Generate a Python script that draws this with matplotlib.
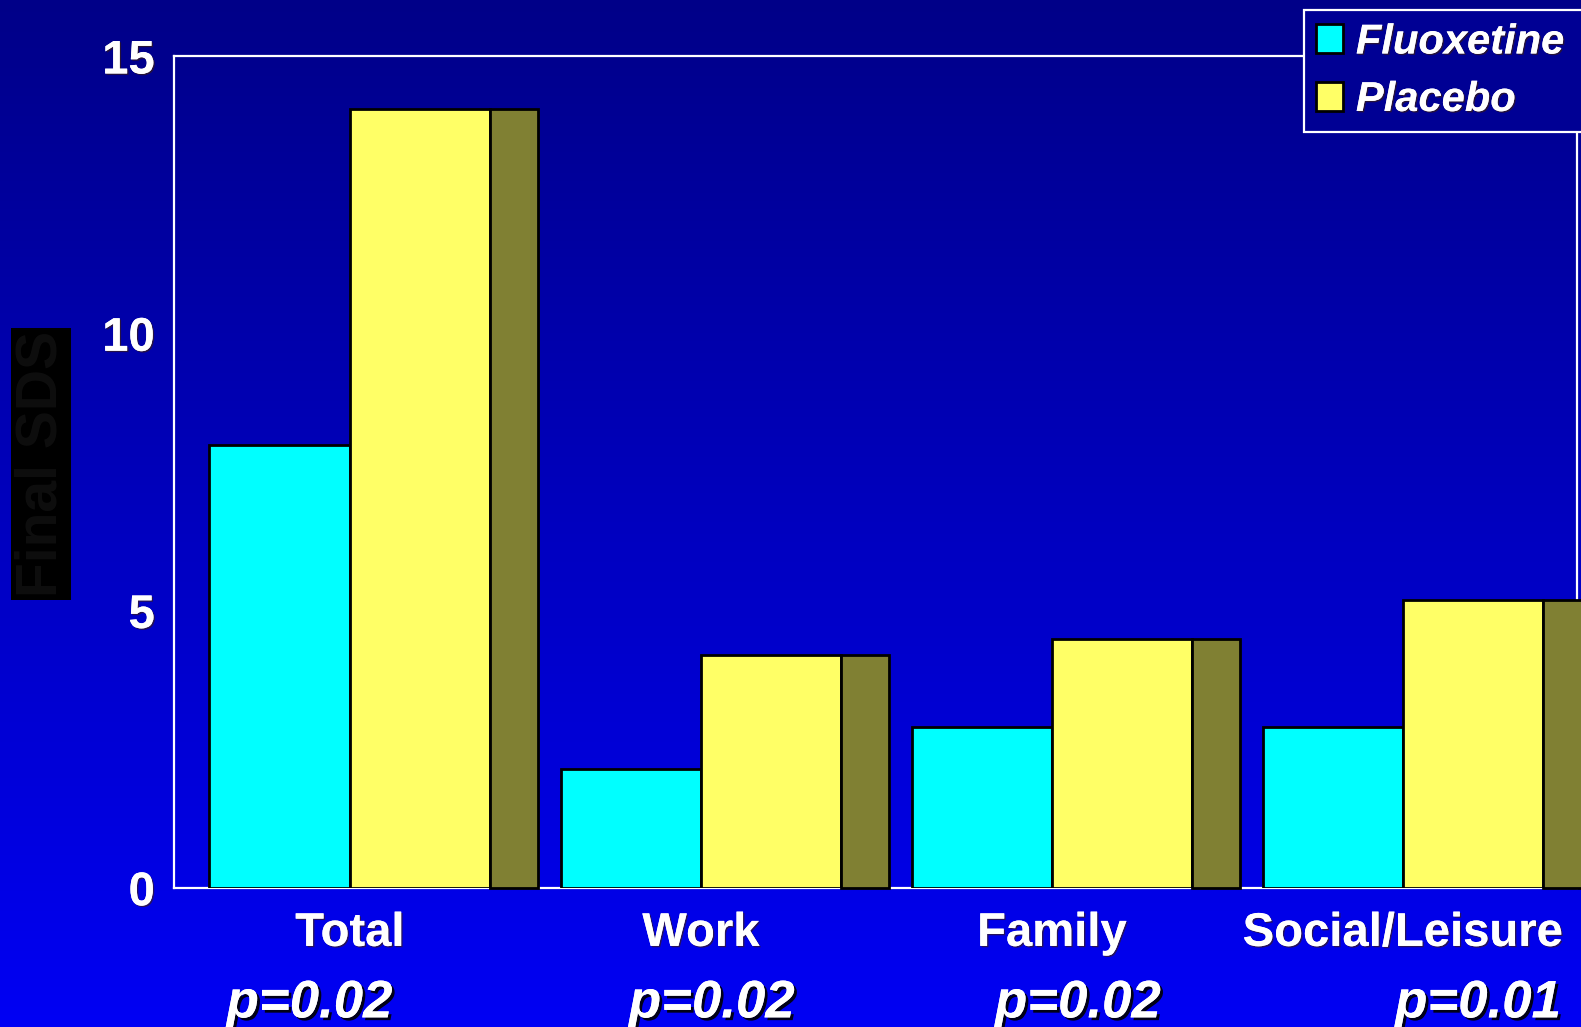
import numpy as np
import matplotlib
matplotlib.use("Agg")
import matplotlib.pyplot as plt
from matplotlib.colors import LinearSegmentedColormap
from matplotlib.patches import Patch
import matplotlib.patheffects as pe
import matplotlib.transforms as mtransforms

categories = ["Total", "Work", "Family", "Social/Leisure"]
fluoxetine = [8.0, 2.15, 2.9, 2.9]
placebo = [14.05, 4.2, 4.5, 5.2]
p_values = ["p=0.02", "p=0.02", "p=0.02", "p=0.01"]
y_ticks = [0, 5, 10, 15]

# hand placed p-value labels (offset from group start)
p_offsets = [0.285, 0.431, 0.474, 0.614]

font = ["Liberation Sans", "DejaVu Sans"]
shadow = [pe.withSimplePatchShadow(offset=(2, -2), shadow_rgbFace="black", alpha=0.9), pe.Normal()]
soft = [pe.withSimplePatchShadow(offset=(1, -1), shadow_rgbFace="#402000", alpha=0.6), pe.Normal()]

fig = plt.figure(figsize=(15.81, 10.27), dpi=100)

# background gradient
bg = fig.add_axes([0, 0, 1, 1], zorder=-10)
cmap = LinearSegmentedColormap.from_list("bg", ["#0000F4", "#000088"])
grad = np.linspace(0, 1, 256).reshape(-1, 1)
bg.imshow(grad, aspect="auto", cmap=cmap, extent=[0, 1, 0, 1], origin="lower")
bg.axis("off")

ax = fig.add_axes([0.1103, 0.1351, 0.8872, 0.8099])
ax.patch.set_alpha(0)

x = np.arange(len(categories))
ax.bar(x, fluoxetine, 0.4, align="edge", color="#00FFFF", edgecolor="black", linewidth=2, zorder=3)
ax.bar(x + 0.4, placebo, 0.4, align="edge", color="#FFFF66", edgecolor="black", linewidth=2, zorder=3)
ax.bar(x + 0.8, placebo, 0.135, align="edge", color="#808033", edgecolor="black", linewidth=2,
       zorder=3, clip_on=False)

ax.set_xlim(-0.1, 3.896)
ax.set_ylim(0, 15)
for s in ax.spines.values():
    s.set_color("white")
    s.set_linewidth(1.6)

ax.set_yticks(y_ticks)
ax.set_yticklabels([str(v) for v in y_ticks], fontsize=34, fontweight="bold", color="white",
                   family=font, path_effects=soft)
ax.set_xticks(x + 0.4)
ax.set_xticklabels(categories, fontsize=34, fontweight="bold", color="white",
                   family=font, path_effects=soft)
ax.tick_params(axis="both", length=0)
ax.tick_params(axis="y", pad=14)
ax.tick_params(axis="x", pad=17)

trans = mtransforms.blended_transform_factory(ax.transData, fig.transFigure)
for i, p in enumerate(p_values):
    ax.text(i + p_offsets[i], 0.023, p, transform=trans, ha="center", va="center", fontsize=38,
            fontweight="bold", style="italic", color="white", family=font,
            path_effects=shadow, clip_on=False)

fig.text(0.026, 0.548, "Final SDS", rotation=90, ha="center", va="center", fontsize=41,
         color="#0e0e0e", family=font, fontweight="bold",
         bbox=dict(boxstyle="square,pad=0.05", facecolor="black", edgecolor="none"))

handles = [Patch(facecolor="#00FFFF", edgecolor="black", linewidth=2, label="Fluoxetine"),
           Patch(facecolor="#FFFF66", edgecolor="black", linewidth=2, label="Placebo")]
leg = fig.legend(handles=handles, loc="upper left", bbox_to_anchor=(0.8247, 0.87, 0.19, 0.1203),
                 mode="expand", frameon=True, fancybox=False, borderaxespad=0,
                 handlelength=0.65, handleheight=0.7,
                 handletextpad=0.3, borderpad=0.3, labelspacing=0.42,
                 prop={"family": font, "weight": "bold", "style": "italic", "size": 30})
leg.get_frame().set_facecolor("#000094")
leg.get_frame().set_edgecolor("white")
leg.get_frame().set_linewidth(1.6)
leg.get_frame().set_alpha(1)
for t in leg.get_texts():
    t.set_color("white")
    t.set_path_effects(soft)

fig.savefig("out.png", dpi=100)
